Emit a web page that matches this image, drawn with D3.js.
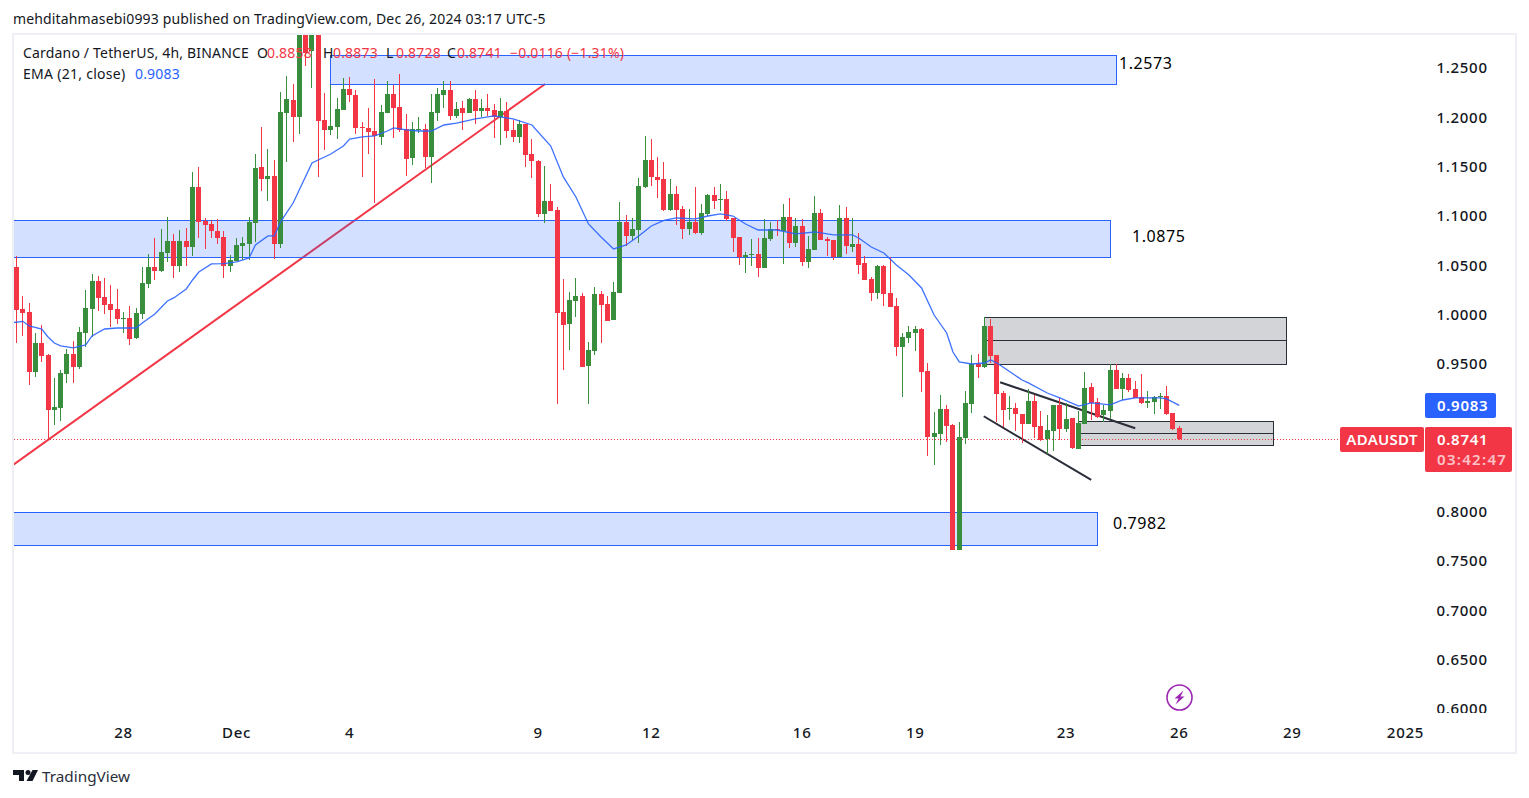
<!DOCTYPE html>
<head>
    <meta charset="utf-8">
    <script src="https://d3js.org/d3.v7.min.js"></script>
    <style>
        html, body { height: 100%; padding: 0; margin: 0; background: #fff; overflow: hidden; }
        svg { display: block; }
        text { font-family: "Noto Sans", sans-serif; fill: #131722; }
        .axis path, .axis line { display: none; }
        .axis text { font-size: 15px; letter-spacing: 0.7px; font-weight: 500; font-family: "Noto Sans", sans-serif; fill: #131722; }
    </style>
</head>

<body>
<svg width="1529" height="798"></svg>
<script>
    var opens = [
        1.0487,1.0061,1.0030,0.9422,0.9716,0.9594,0.9036,0.9057,0.9402,0.9604,
        0.9472,0.9818,1.0061,1.0345,1.0183,1.0111,1.0061,0.9959,0.9969,0.9767,
        1.0010,1.0315,1.0487,1.0447,1.0629,1.0751,1.0497,1.0751,1.0690,1.1298,
        1.0954,1.0923,1.0852,1.0791,1.0497,1.0548,1.0700,1.0720,1.0933,1.1501,
        1.1380,1.1410,1.0720,1.2049,1.2181,1.2008,1.2905,1.2678,1.2950,1.1978,
        1.1877,1.1907,1.2079,1.2292,1.2231,1.1907,1.1897,1.1866,1.1806,1.2049,
        1.2242,1.2110,1.1887,1.1593,1.1877,1.1887,1.1603,1.2049,1.2231,1.2282,
        1.2019,1.2100,1.2049,1.2191,1.2069,1.2100,1.2079,1.2008,1.2069,1.1877,
        1.1806,1.1937,1.1633,1.1562,1.1025,1.1156,1.1065,1.0030,0.9908,1.0142,
        1.0193,0.9483,0.9635,1.0213,1.0111,0.9949,1.0223,1.0944,1.0802,1.0862,
        1.1298,1.1572,1.1400,1.1380,1.1065,1.1227,1.1075,1.0872,1.0944,1.0832,
        1.1025,1.1217,1.1167,1.1177,1.0984,1.0791,1.0589,1.0609,1.0619,1.0477,
        1.0771,1.0872,1.0852,1.0994,1.0731,1.0903,1.0538,1.0660,1.1035,1.0771,
        1.0761,1.0589,1.0984,1.0690,1.0720,1.0528,1.0365,1.0223,1.0497,1.0223,
        1.0091,0.9675,0.9767,0.9818,0.9858,0.9432,0.8763,0.8793,0.9047,0.8885,
        0.7617,0.8753,0.9098,0.9503,0.9472,0.9888,0.9594,0.9209,0.9047,0.9057,
        0.8996,0.8895,0.9128,0.8875,0.8743,0.8824,0.9088,0.8844,0.8955,0.8641,
        0.8895,0.9270,0.9118,0.8986,0.9026,0.9442,0.9250,0.9361,0.9250,0.9169,
        0.9108,0.9118,0.9169,0.9179,0.9006,0.8858
    ];
    var highs = [
        1.0599,1.0193,1.0122,0.9818,0.9898,0.9604,0.9361,0.9442,0.9655,0.9736,
        0.9878,1.0254,1.0416,1.0396,1.0376,1.0305,1.0264,1.0030,1.0091,1.0071,
        1.0487,1.0619,1.0781,1.0872,1.0994,1.0822,1.0862,1.0883,1.1451,1.1501,
        1.0984,1.0964,1.0974,1.0852,1.0609,1.0781,1.0791,1.0994,1.1633,1.1907,
        1.1684,1.1572,1.2262,1.2424,1.2343,1.3000,1.3000,1.3100,1.3100,1.2252,
        1.2333,1.2201,1.2404,1.2414,1.2282,1.1958,1.2100,1.2394,1.2130,1.2373,
        1.2333,1.2445,1.2039,1.1958,1.2008,1.1937,1.2242,1.2302,1.2373,1.2373,
        1.2160,1.2171,1.2201,1.2282,1.2191,1.2242,1.2140,1.2201,1.2160,1.1978,
        1.1978,1.1937,1.1785,1.1572,1.1511,1.1329,1.1096,1.0365,1.0234,1.0376,
        1.0223,0.9726,1.0284,1.0244,1.0193,1.0335,1.1146,1.1015,1.0984,1.1390,
        1.1816,1.1785,1.1603,1.1552,1.1380,1.1309,1.1106,1.1075,1.1298,1.1126,
        1.1227,1.1298,1.1329,1.1258,1.0984,1.0791,1.0639,1.0771,1.0781,1.0974,
        1.0944,1.0964,1.1126,1.1187,1.0984,1.0974,1.0802,1.1207,1.1075,1.0791,
        1.0761,1.1116,1.1096,1.0984,1.0832,1.0599,1.0386,1.0507,1.0507,1.0589,
        1.0173,0.9818,0.9888,0.9888,0.9868,0.9513,0.9016,0.9189,0.9088,0.8895,
        0.8915,0.9229,0.9594,0.9604,0.9980,0.9959,0.9594,0.9229,0.9179,0.9108,
        0.8996,0.9250,0.9189,0.9027,0.8986,0.9088,0.9159,0.9108,0.8955,0.9027,
        0.9422,0.9311,0.9159,0.9088,0.9503,0.9503,0.9412,0.9402,0.9331,0.9402,
        0.9229,0.9179,0.9209,0.9280,0.9006,0.8873
    ];
    var lows = [
        0.9716,0.9787,0.9290,0.9371,0.9523,0.8743,0.8884,0.8925,0.9310,0.9310,
        0.9452,0.9675,0.9777,1.0040,1.0010,0.9878,0.9908,0.9818,0.9696,0.9757,
        0.9959,1.0274,1.0355,1.0436,1.0538,1.0376,1.0436,1.0497,1.0599,1.0781,
        1.0670,1.0781,1.0720,1.0376,1.0436,1.0548,1.0558,1.0558,1.0741,1.1258,
        1.1156,1.0568,1.0680,1.1552,1.1755,1.1836,1.2526,1.2302,1.1400,1.1674,
        1.1826,1.1785,1.2079,1.2160,1.1836,1.1400,1.1633,1.1136,1.1724,1.2049,
        1.1795,1.1856,1.1410,1.1522,1.1846,1.1491,1.1339,1.1968,1.2100,1.1978,
        1.1998,1.1877,1.2049,1.1937,1.2008,1.2019,1.1795,1.1724,1.1795,1.1755,
        1.1745,1.1501,1.1390,1.0994,1.0933,1.1055,0.9098,0.9442,0.9645,0.9980,
        0.9472,0.9098,0.9594,0.9716,0.9939,0.9949,1.0223,1.0700,1.0761,1.0731,
        1.1288,1.1309,1.1187,1.1055,1.1055,1.0913,1.0771,1.0812,1.0822,1.0812,
        1.1004,1.1075,1.1055,1.0954,1.0639,1.0507,1.0426,1.0497,1.0386,1.0477,
        1.0751,1.0802,1.0518,1.0680,1.0690,1.0497,1.0477,1.0660,1.0761,1.0599,
        1.0558,1.0589,1.0619,1.0639,1.0416,1.0355,1.0142,1.0163,1.0091,1.0081,
        0.9584,0.9169,0.9716,0.9635,0.9219,0.8570,0.8479,0.8682,0.8712,0.7617,
        0.7617,0.8692,0.9006,0.9361,0.9462,0.9513,0.8915,0.8864,0.8935,0.8824,
        0.8702,0.8895,0.8753,0.8723,0.8591,0.8621,0.8733,0.8814,0.8641,0.8641,
        0.8895,0.8935,0.8955,0.8915,0.8945,0.9250,0.9138,0.9219,0.9159,0.9098,
        0.9057,0.8996,0.9047,0.8986,0.8834,0.8728
    ];
    var closes = [
        1.0051,1.0020,0.9422,0.9716,0.9584,0.9036,0.9067,0.9412,0.9604,0.9472,
        0.9827,1.0071,1.0345,1.0173,1.0101,1.0051,0.9959,0.9969,0.9757,1.0020,
        1.0325,1.0487,1.0447,1.0639,1.0751,1.0497,1.0751,1.0690,1.1298,1.0944,
        1.0913,1.0852,1.0781,1.0497,1.0558,1.0710,1.0731,1.0944,1.1491,1.1380,
        1.1410,1.0720,1.2059,1.2191,1.2008,1.2875,1.2657,1.2950,1.1968,1.1877,
        1.1917,1.2090,1.2292,1.2231,1.1897,1.1897,1.1856,1.1816,1.2059,1.2242,
        1.2100,1.1877,1.1582,1.1887,1.1887,1.1603,1.2059,1.2242,1.2282,1.2019,
        1.2090,1.2049,1.2191,1.2069,1.2100,1.2069,1.2008,1.2069,1.1866,1.1806,
        1.1937,1.1623,1.1562,1.1025,1.1156,1.1055,1.0020,0.9898,1.0152,1.0193,
        0.9472,0.9645,1.0213,1.0101,0.9939,1.0234,1.0944,1.0802,1.0872,1.1309,
        1.1572,1.1400,1.1369,1.1065,1.1227,1.1065,1.0872,1.0944,1.0832,1.1035,
        1.1217,1.1156,1.1177,1.0974,1.0781,1.0589,1.0609,1.0619,1.0477,1.0781,
        1.0872,1.0862,1.0994,1.0731,1.0903,1.0538,1.0670,1.1035,1.0761,1.0751,
        1.0589,1.0984,1.0700,1.0720,1.0507,1.0355,1.0223,1.0497,1.0213,1.0081,
        0.9675,0.9777,0.9827,0.9858,0.9422,0.8763,0.8803,0.9047,0.8875,0.7617,
        0.8763,0.9108,0.9503,0.9472,0.9888,0.9584,0.9199,0.9036,0.9057,0.8996,
        0.8895,0.9128,0.8864,0.8733,0.8834,0.9088,0.8844,0.8945,0.8651,0.8905,
        0.9260,0.9108,0.8966,0.9036,0.9442,0.9250,0.9361,0.9240,0.9159,0.9108,
        0.9128,0.9169,0.9179,0.8996,0.8844,0.8741
    ];

    // EMA: candle index and value
    var emaIndex = [-1,1,2,4,5,6,7,9,11,12,14,16,19,20,22,24,25,27,28,29,31,33,35,37,38,40,41,42,44,47,
        50,52,53,55,57,59,60,62,64,66,68,70,73,76,79,82,85,87,89,91,93,95,97,99,101,103,105,108,110,112,
        114,116,118,121,124,127,130,133,134,136,138,140,142,144,146,148,149,150,152,154,155,156,160,161,
        164,166,169,171,174,176,178,182,183,185];
    var emaValues = [0.9919,0.9936,0.9889,0.9858,0.9777,0.9716,0.9686,0.9666,0.9696,0.9787,0.9858,0.9868,0.9868,
        0.9919,1.0010,1.0142,1.0173,1.0264,1.0355,1.0436,1.0518,1.0521,1.0538,1.0579,1.0710,1.0802,1.0802,
        1.0944,1.1136,1.1542,1.1633,1.1714,1.1785,1.1806,1.1816,1.1866,1.1897,1.1877,1.1866,1.1866,1.1927,
        1.1947,1.1988,1.2019,1.1988,1.1927,1.1714,1.1400,1.1197,1.0923,1.0791,1.0670,1.0710,1.0802,1.0903,
        1.0959,1.0984,1.0974,1.1004,1.1025,1.1004,1.0923,1.0862,1.0862,1.0822,1.0842,1.0812,1.0812,1.0781,
        1.0690,1.0629,1.0507,1.0406,1.0274,1.0000,0.9818,0.9625,0.9524,0.9503,0.9513,0.9544,0.9513,0.9341,
        0.9311,0.9209,0.9159,0.9077,0.9108,0.9088,0.9138,0.9159,0.9159,0.9149,0.9083];

    var priceTicks = [1.25,1.2,1.15,1.1,1.05,1,0.95,0.9,0.85,0.8,0.75,0.7,0.65,0.6];
    var timeTickIndex = [17,35,53,83,101,125,143,167,185,203,221];
    var timeTickLabels = ["28","Dec","4","9","12","16","19","23","26","29","2025"];

    // blue zones: first candle, last candle, top price, bottom price, label
    var zoneStart = [49.9,-1,-1];
    var zoneEnd = [174.9,174,172];
    var zoneTop = [1.2635,1.0959,0.8000];
    var zoneBottom = [1.2338,1.0584,0.7668];
    var zoneLabels = ["1.2573","1.0875","0.7982"];

    // grey boxes with a mid line
    var boxStart = [153.9,168.9];
    var boxEnd = [202,200];
    var boxTop = [0.9980,0.8930];
    var boxMid = [0.9744,0.8808];
    var boxBottom = [0.9500,0.8685];

    var redLine = {i: [-0.58,84.1], p: [0.8479,1.2343]};
    var blackLine1 = {i: [156.5,178], p: [0.9318,0.8852]};
    var blackLine2 = {i: [153.9,171], p: [0.8973,0.8327]};

    var red = "#F23645", green = "#388E3C", blue = "#2962FF", dark = "#2A2E39";

    var svg = d3.select("svg");
    var x = d3.scaleLinear().domain([0,185]).range([16.6,1179.2]);
    var y = d3.scaleLinear().domain([0.6,1.25]).range([709.4,68.5]);
    var px = function(i) { return Math.floor(x(i)); };

    // frame
    svg.append("rect").attr("x",13).attr("y",34).attr("width",1503).attr("height",719)
        .attr("fill","#fff").attr("stroke","#EFF0F5").attr("stroke-width",2);

    svg.append("clipPath").attr("id","plot").append("rect")
        .attr("x",14).attr("y",35).attr("width",1410).attr("height",678);
    svg.append("clipPath").attr("id","priceClip").append("rect")
        .attr("x",1424).attr("y",35).attr("width",90).attr("height",678);

    var plot = svg.append("g").attr("clip-path","url(#plot)");

    // trend line goes under the zones
    plot.append("line")
        .attr("x1",x(redLine.i[0])).attr("y1",y(redLine.p[0]))
        .attr("x2",x(redLine.i[1])).attr("y2",y(redLine.p[1]))
        .attr("stroke",red).attr("stroke-width",2);

    zoneTop.forEach(function(t, k) {
        plot.append("rect")
            .attr("x",Math.round(x(zoneStart[k]))+0.5)
            .attr("y",Math.round(y(t))+0.5)
            .attr("width",Math.round(x(zoneEnd[k])-x(zoneStart[k])))
            .attr("height",Math.round(y(zoneBottom[k])-y(t)))
            .attr("fill",blue).attr("fill-opacity",0.2)
            .attr("stroke",blue).attr("stroke-width",1);
    });

    boxTop.forEach(function(t, k) {
        var x0 = Math.round(x(boxStart[k]))+0.5, x1 = Math.round(x(boxEnd[k]))+0.5;
        plot.append("rect")
            .attr("x",x0).attr("y",Math.round(y(t))+0.5)
            .attr("width",x1-x0).attr("height",Math.round(y(boxBottom[k])-y(t)))
            .attr("fill","#787B86").attr("fill-opacity",0.33)
            .attr("stroke",dark).attr("stroke-width",1);
        plot.append("line")
            .attr("x1",x0).attr("x2",x1)
            .attr("y1",Math.round(y(boxMid[k]))+0.5).attr("y2",Math.round(y(boxMid[k]))+0.5)
            .attr("stroke",dark).attr("stroke-width",1);
    });

    [blackLine1, blackLine2].forEach(function(l) {
        plot.append("line")
            .attr("x1",x(l.i[0])).attr("y1",y(l.p[0]))
            .attr("x2",x(l.i[1])).attr("y2",y(l.p[1]))
            .attr("stroke",dark).attr("stroke-width",2);
    });

    // last price dotted line
    plot.append("line")
        .attr("x1",14).attr("x2",1340)
        .attr("y1",Math.round(y(closes[185]))+0.5).attr("y2",Math.round(y(closes[185]))+0.5)
        .attr("stroke",red).attr("stroke-width",1).attr("stroke-dasharray","1 2");

    // candles
    var candle = plot.selectAll(".candle")
        .data(d3.range(opens.length))
        .enter()
        .append("g")
        .attr("class","candle")
        .attr("fill",function(i) { return closes[i] >= opens[i] ? green : red; });

    candle.append("rect")
        .attr("x",function(i) { return px(i); })
        .attr("width",1)
        .attr("y",function(i) { return Math.round(y(highs[i])); })
        .attr("height",function(i) { return Math.max(1,Math.round(y(lows[i]))-Math.round(y(highs[i]))); });

    candle.append("rect")
        .attr("x",function(i) { return px(i)-2; })
        .attr("width",5)
        .attr("y",function(i) { return Math.round(y(Math.max(opens[i],closes[i]))); })
        .attr("height",function(i) { return Math.max(1,Math.round(y(Math.min(opens[i],closes[i])))-Math.round(y(Math.max(opens[i],closes[i])))); });

    // EMA
    var emaLine = d3.line()
        .x(function(d) { return x(d[0]); })
        .y(function(d) { return y(d[1]); });
    plot.append("path")
        .datum(d3.zip(emaIndex, emaValues))
        .attr("d",emaLine)
        .attr("fill","none")
        .attr("stroke",blue).attr("stroke-opacity",0.9).attr("stroke-width",1.3);

    // zone labels
    var labelX = [1119,1132,1113], labelY = [63,236,523];
    zoneLabels.forEach(function(t, k) {
        svg.append("text").attr("x",labelX[k]).attr("y",labelY[k]).attr("dy","0.35em")
            .style("font-size","16px").style("letter-spacing","0.55px").style("fill","#000").text(t);
    });

    // axes
    var priceGroup = svg.append("g").attr("clip-path","url(#priceClip)");
    priceGroup.append("g").attr("class","axis")
        .attr("transform","translate(1436.5,-0.5)")
        .call(d3.axisRight(y).tickValues(priceTicks).tickSize(0).tickPadding(0).tickFormat(d3.format(".4f")));

    var timeAxis = svg.append("g").attr("class","axis")
        .attr("transform","translate(-0.5,724)")
        .call(d3.axisBottom(x).tickValues(timeTickIndex).tickSize(0).tickPadding(3)
            .tickFormat(function(d, i) { return timeTickLabels[i]; }));

    // price tags on the right
    function tag(xx, yy, w, h, color) {
        svg.append("rect").attr("x",xx).attr("y",yy).attr("width",w).attr("height",h).attr("rx",2).attr("fill",color);
    }
    function tagText(xx, yy, t, fill, op, anchor, ls) {
        svg.append("text").attr("x",xx).attr("y",yy).attr("dy","0.35em")
            .attr("text-anchor",anchor || "start")
            .style("font-size","15px").style("letter-spacing",ls || "0.7px").style("font-weight","600").style("fill",fill).style("opacity",op)
            .text(t);
    }
    tag(1425,393,71,25,blue);
    tagText(1437,405.5,"0.9083","#fff",1);
    tag(1340,427,84,25,red);
    tagText(1382,439.5,"ADAUSDT","#fff",1,"middle","0.3px");
    tag(1425,427,87,45,red);
    tagText(1437,439.5,"0.8741","#fff",1);
    tagText(1437,460,"03:42:47","#fff",0.7,"start","1.3px");

    // header and legend
    var textSize = "14px", textSpacing = "0.18px";
    svg.append("text").attr("x",13).attr("y",19).attr("dy","0.35em")
        .style("font-size",textSize).style("letter-spacing","0.15px").text("mehditahmasebi0993 published on TradingView.com, Dec 26, 2024 03:17 UTC-5");

    var legendText = ["Cardano / TetherUS, 4h, BINANCE","O","0.8858","H","0.8873","L","0.8728","C","0.8741","\u22120.0116 (\u22121.31%)"];
    var legendX = [23,257,267,323,333,386,396,447,457,510];
    var legendFill = ["#131722","#131722",red,"#131722",red,"#131722",red,"#131722",red,red];
    legendText.forEach(function(t, k) {
        svg.append("text").attr("x",legendX[k]).attr("y",53).attr("dy","0.35em")
            .style("font-size",textSize).style("letter-spacing",textSpacing).style("fill",legendFill[k]).text(t);
    });
    svg.append("text").attr("x",23).attr("y",74.5).attr("dy","0.35em").style("font-size",textSize).style("letter-spacing","0.28px").text("EMA (21, close)");
    svg.append("text").attr("x",135).attr("y",74.5).attr("dy","0.35em").style("font-size",textSize).style("letter-spacing",textSpacing).style("fill",blue).text("0.9083");

    // lightning badge
    var badge = svg.append("g").attr("transform","translate(1179.5,697.5)");
    badge.append("circle").attr("r",12.5).attr("fill","#fff").attr("stroke","#9C27B0").attr("stroke-width",1.6);
    badge.append("path").attr("d","M4,-7 L-5,1 L-1,1 L-4,7 L5,-1 L1,-1 Z").attr("fill","#9C27B0");

    // footer logo
    svg.append("path").attr("fill","#131722")
        .attr("d","M13,770 H24 V781 H19 V775 H13 Z M32.5,770 H38 L32.5,781 H26.5 Z");
    svg.append("circle").attr("cx",28).attr("cy",772.5).attr("r",2.5).attr("fill","#131722");
    svg.append("text").attr("x",42).attr("y",776.5).attr("dy","0.35em")
        .style("font-size","15.3px").style("fill","#2A2E39").text("TradingView");
</script>
</body>
